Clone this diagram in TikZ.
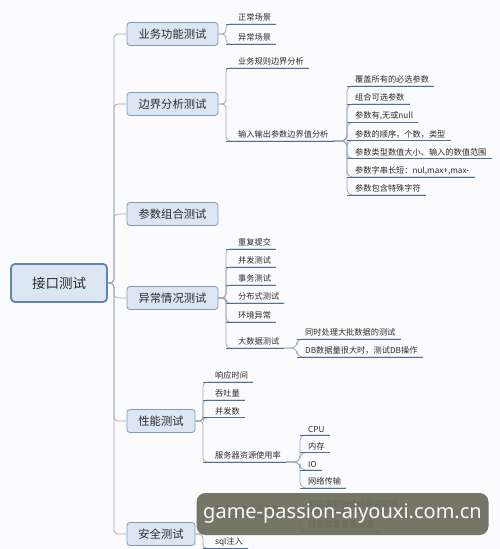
\documentclass[tikz,border=0pt]{standalone}
\usepackage{fontspec}
\newfontfamily\cjk{Noto Sans CJK SC}
\newfontfamily\wmfont{Noto Sans}
\definecolor{bg}{HTML}{FBFBFD}
\definecolor{boxf}{HTML}{DCE6F2}
\definecolor{boxb}{HTML}{7F9CC0}
\definecolor{rootb}{HTML}{5F86B3}
\definecolor{connc}{HTML}{9EA9B8}
\definecolor{ulc}{HTML}{4E6F99}
\definecolor{txt}{HTML}{2B2B2B}
\definecolor{wmc}{HTML}{6C6C5C}
\begin{document}
\begin{tikzpicture}[x=1pt,y=-1pt,
  every node/.style={font=\cjk, text=txt},
  rootbox/.style={draw=rootb, line width=1.8pt, fill=boxf, rounded corners=4pt,
    minimum width=96pt, minimum height=38pt, font=\cjk\fontsize{13.5}{15}\selectfont},
  lone/.style={draw=boxb, line width=0.8pt, fill=boxf, rounded corners=3pt,
    minimum width=91pt, minimum height=23pt, font=\cjk\fontsize{11.3}{13}\selectfont},
  leafbase/.style={anchor=south west, inner xsep=0pt, inner ysep=2.2pt,
    font=\cjk\fontsize{8.2}{9}\selectfont, execute at end node={\hspace*{5pt}}},
  leaf/.style={leafbase, execute at begin node={\hspace*{12pt}}},
  leafc/.style={leafbase, execute at begin node={\hspace*{8pt}}},
  conn/.style={draw=connc, line width=0.8pt, rounded corners=4pt},
  connc/.style={draw=connc, line width=0.8pt, rounded corners=6pt},
  uline/.style={draw=ulc, line width=1pt},
  wmbox/.style={fill=wmc, fill opacity=0.93, text opacity=1, rounded corners=9pt,
    minimum width=292pt, minimum height=42pt, text=white!95!gray,
    font=\wmfont\fontsize{20}{22}\selectfont}
]
\useasboundingbox (0,0) rectangle (500,549);
\fill[bg] (0,0) rectangle (500,549);

% root and level 1
\node[rootbox] (root) at (59,283) {接口测试};
\node[lone] (b1) at (172.5,34) {业务功能测试};
\node[lone] (b2) at (172.5,104) {边界分析测试};
\node[lone] (b3) at (172.5,214) {参数组合测试};
\node[lone] (b4) at (172.5,298) {异常情况测试};
\node[lone, minimum width=68pt] (b5) at (161,421) {性能测试};
\node[lone, minimum width=68pt] (b6) at (161,534) {安全测试};

\foreach \b in {b1,b2,b3,b4,b5,b6}
  \draw[conn] (root.east) -- ++(6,0) |- (\b.west);

% level 2
\node[leaf] (a1) at (226,24) {正常场景};
\node[leaf] (a2) at (226,44) {异常场景};

\node[leaf] (c1) at (226,68) {业务规则边界分析};
\node[leaf] (c2) at (226,141) {输入输出参数边界值分析};

\node[leafc] (d1) at (347,86) {覆盖所有的必选参数};
\node[leafc] (d2) at (347,104) {组合可选参数};
\node[leafc] (d3) at (347,122.5) {参数有,无或null};
\node[leafc] (d4) at (347,140.5) {参数的顺序，个数，类型};
\node[leafc] (d5) at (347,158.5) {参数类型数值大小、输入的数值范围};
\node[leafc] (d6) at (347,177) {参数字串长短：nul,max+,max-};
\node[leafc] (d7) at (347,195) {参数包含特殊字符};

\node[leaf] (e1) at (226,249) {重复提交};
\node[leaf] (e2) at (226,267) {并发测试};
\node[leaf] (e3) at (226,285) {事务测试};
\node[leaf] (e4) at (226,303) {分布式测试};
\node[leaf] (e5) at (226,322) {环境异常};
\node[leaf] (e6) at (226,348) {大数据测试};

\node[leafc] (f1) at (297,339) {同时处理大批数据的测试};
\node[leafc] (f2) at (297,357) {DB数据量很大时，测试DB操作};

\node[leaf] (g1) at (203,382) {响应时间};
\node[leaf] (g2) at (203,400) {吞吐量};
\node[leaf] (g3) at (203,417.5) {并发数};
\node[leaf] (g4) at (203,462) {服务器资源使用率};

\node[leafc] (h1) at (300,435) {CPU};
\node[leafc] (h2) at (300,452.5) {内存};
\node[leafc] (h3) at (300,470) {IO};
\node[leafc] (h4) at (300,488) {网络传输};

\node[leaf] (k1) at (203,516) {敏感信息是否加密};
\node[leaf] (k2) at (203,548.5) {sql注入};

\node[leafc] (m1) at (300,511) {前后端数据传输是否加密};
\node[leafc] (m2) at (300,531) {日志信息是否加密};

% connectors level 1 -> level 2
\foreach \p/\cs in {b1/{a1,a2}, b2/{c1,c2}, b4/{e1,e2,e3,e4,e5,e6}, b5/{g1,g2,g3,g4}, b6/{k1,k2}}
  \foreach \c in \cs
    \draw[conn] (\p.east) -- (\p.east -| \c.south west) |- (\c.south east);

% connectors level 2 -> level 3
\foreach \p/\cs in {c2/{d1,d2,d3,d4,d5,d6,d7}, e6/{f1,f2}, g4/{h1,h2,h3,h4}, k1/{m1,m2}}
  \foreach \c in \cs
    \draw[connc] (\p.south east) -- (\p.south east -| \c.south west) |- (\c.south east);

% underlines
\foreach \c in {a1,a2,c1,c2,d1,d2,d3,d4,d5,d6,d7,e1,e2,e3,e4,e5,e6,f1,f2,g1,g2,g3,g4,h1,h2,h3,h4,k1,k2,m1,m2}
  \draw[uline] (\c.south west) -- (\c.south east);

% watermark
\node[wmbox] (wm) at (342.5,514) {game-passion-aiyouxi.com.cn};
\end{tikzpicture}
\end{document}
